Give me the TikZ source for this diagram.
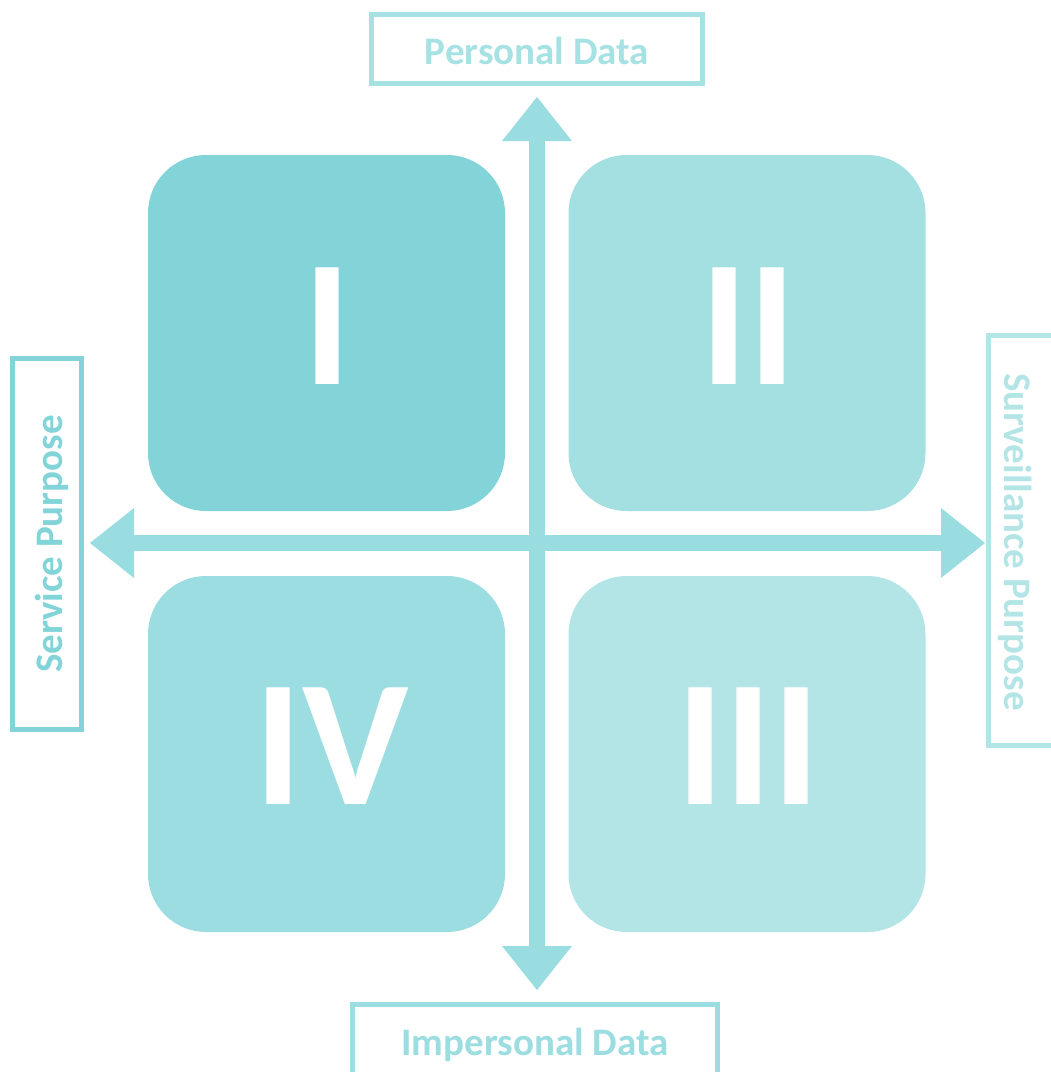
\documentclass[tikz,border=0pt]{standalone}
\usepackage{fontspec}
\setmainfont{Carlito}
\usetikzlibrary{arrows.meta}
\definecolor{qone}{HTML}{82D4D8}
\definecolor{qtwo}{HTML}{A4E0E2}
\definecolor{qthree}{HTML}{B3E5E7}
\definecolor{qfour}{HTML}{9BDDE0}
\definecolor{axiscol}{HTML}{9ADDE0}
\definecolor{toplab}{HTML}{A6E1E3}
\tikzset{
  quad/.style={draw=none, rounded corners=58pt, minimum width=357pt, minimum height=356pt, inner sep=0pt},
  numeral/.style={text=white, font=\fontsize{180}{180}\selectfont\bfseries, inner sep=0pt, text depth=0pt},
  labbox/.style={draw=#1, line width=5pt, inner sep=0pt},
  labtext/.style={text=#1, font=\fontsize{39}{39}\selectfont\bfseries, inner sep=0pt, text depth=0pt},
  axis/.style={draw=axiscol, line width=16pt,
    {Triangle[width=70pt,length=44pt,line width=0pt,fill=axiscol]}-{Triangle[width=70pt,length=44pt,line width=0pt,fill=axiscol]}}
}
\begin{document}
\begin{tikzpicture}[x=1pt,y=-1pt]
\useasboundingbox (0,0) rectangle (1051,1072);
% quadrants
\node[quad, fill=qone]   (q1) at (326.5,333) {};
\node[quad, fill=qtwo]   (q2) at (747,333) {};
\node[quad, fill=qfour]  (q4) at (326.5,754) {};
\node[quad, fill=qthree] (q3) at (747,754) {};
\node[numeral] (n1) at (327,326) {I};
\node[numeral] (n2) at (748,326) {II};
\node[numeral] (n4) at (332,746) {IV};
\node[numeral] (n3) at (748,746) {III};
% axes
\coordinate (vtop) at (537,97);
\coordinate (vbot) at (537,990);
\coordinate (hleft) at (90,543);
\coordinate (hright) at (985,543);
\draw[axis] (hleft) -- (hright);
\draw[axis] (vtop) -- (vbot);
% label boxes
\node[labbox=toplab, minimum width=331pt, minimum height=69pt] (tb) at (537,49) {};
\node[labtext=toplab] (tt) at (537,50.5) {Personal Data};
\node[labbox=qfour, minimum width=365pt, minimum height=100pt] (bb) at (535,1054.5) {};
\node[labtext=qfour] (bt) at (535,1042) {Impersonal Data};
\node[labbox=qone, minimum width=69pt, minimum height=371pt] (lb) at (47,544) {};
\node[labtext=qone, rotate=90] (lt) at (49,544) {Service Purpose};
\node[labbox=qthree, minimum width=90pt, minimum height=410pt] (rb) at (1033.5,540.5) {};
\node[labtext=qthree, rotate=-90] (rt) at (1018,542) {Surveillance Purpose};
\end{tikzpicture}
\end{document}
